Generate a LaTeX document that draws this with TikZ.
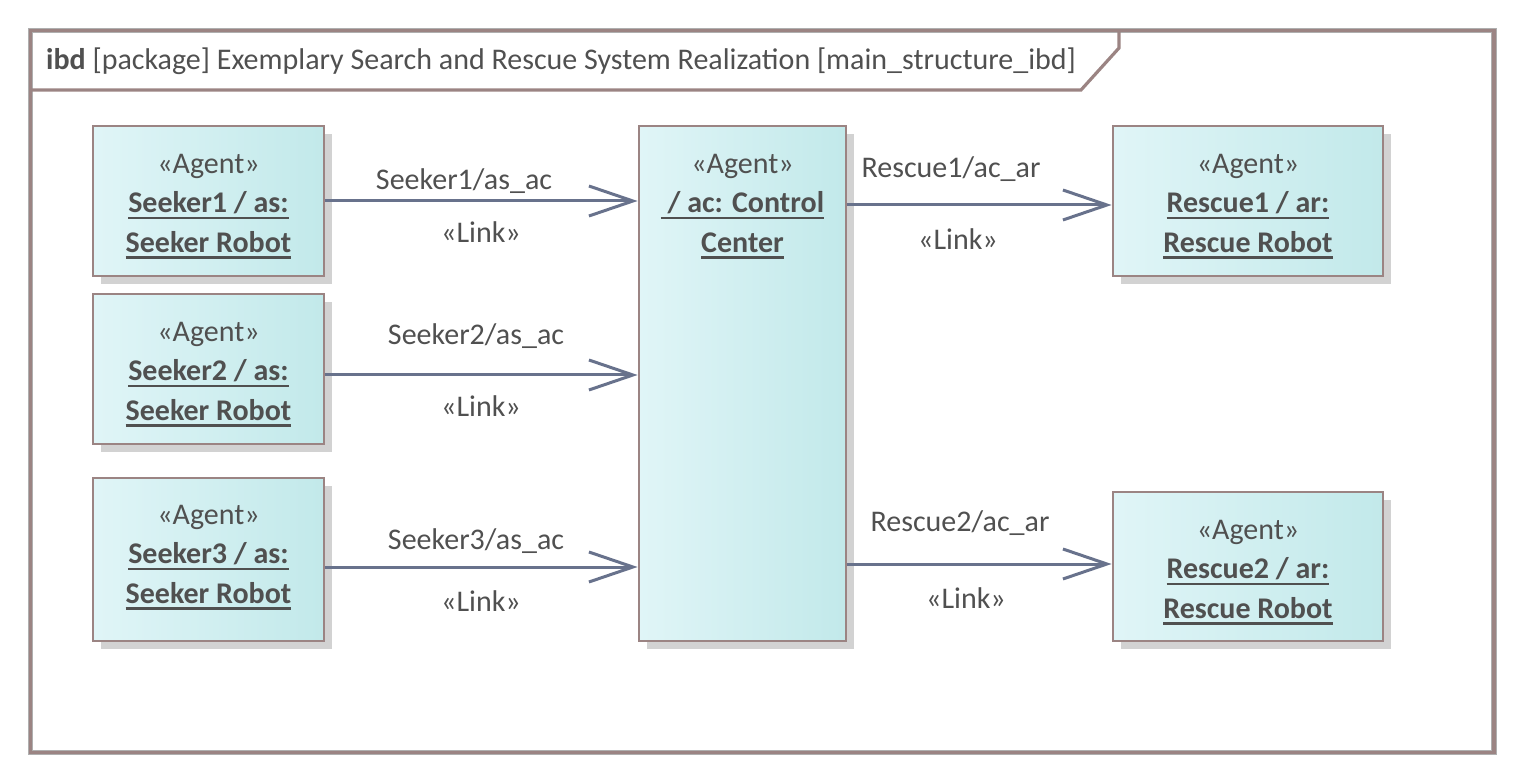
\documentclass[tikz,border=0pt]{standalone}
\usepackage{fontspec}
\setmainfont{Carlito}
\usetikzlibrary{arrows.meta,shadows,calc}
\definecolor{frameb}{RGB}{155,132,131}
\definecolor{frameg}{RGB}{175,175,175}
\definecolor{boxl}{RGB}{224,245,247}
\definecolor{boxr}{RGB}{194,233,234}
\definecolor{txtc}{RGB}{80,80,80}
\definecolor{arrc}{RGB}{104,114,140}
\definecolor{shad}{RGB}{210,210,210}
\newcommand\ulbold[1]{\setbox0\hbox{\bfseries #1}\rlap{\rule[-6.5pt]{\wd0}{2.8pt}}\box0}
\begin{document}
\begin{tikzpicture}[x=1pt,y=-1pt,
  part/.style={draw=frameb, line width=2.8pt, left color=boxl, right color=boxr,
    rectangle, inner sep=0pt,
    drop shadow={shadow xshift=8pt,shadow yshift=-8pt,fill=shad,opacity=1,draw=none}},
  parttext/.style={text=txtc, align=center, inner sep=0pt, font=\fontsize{30}{39.5}\selectfont},
  lbl/.style={text=txtc, inner sep=0pt, font=\fontsize{30}{36}\selectfont},
  link/.style={draw=arrc, line width=3pt, -{Straight Barb[length=44pt,width=30pt,line width=3pt]}}
]
\useasboundingbox (0,0) rectangle (1524,783);
% frame
\draw[frameg, line width=5.5pt] (30.5,30.5) rectangle (1494,752.5);
\draw[frameb, line width=3.2pt] (30.5,30.5) rectangle (1494,752.5);
\draw[frameb, line width=3.2pt] (30.5,90) -- (1081,90) -- (1119,48) -- (1119,30.5);
\node[lbl, anchor=base west] (title) at (46,69.5) {\textbf{ibd} [package] Exemplary Search and Rescue System Realization [main\_structure\_ibd]};
% parts
\node[part, minimum width=231pt, minimum height=150pt] (s1) at (208.5,201) {};
\node[part, minimum width=231pt, minimum height=150pt] (s2) at (208.5,369) {};
\node[part, minimum width=231pt, minimum height=163pt] (s3) at (208.5,559.5) {};
\node[part, minimum width=207pt, minimum height=515pt] (cc) at (742.5,383.5) {};
\node[part, minimum width=270pt, minimum height=150pt] (r1) at (1248,201) {};
\node[part, minimum width=270pt, minimum height=149pt] (r2) at (1248,566.5) {};
% part texts
\node[parttext] (s1t) at (208.5,206.5) {«Agent»\\\ulbold{Seeker1 / as:}\\\ulbold{Seeker Robot}};
\node[parttext] (s2t) at (208.5,374.5) {«Agent»\\\ulbold{Seeker2 / as:}\\\ulbold{Seeker Robot}};
\node[parttext] (s3t) at (208.5,557.5) {«Agent»\\\ulbold{Seeker3 / as:}\\\ulbold{Seeker Robot}};
\node[parttext] (cct) at (742.5,206.5) {«Agent»\\\ulbold{ / ac: Control}\\\ulbold{Center}};
\node[parttext] (r1t) at (1248,206.5) {«Agent»\\\ulbold{Rescue1 / ar:}\\\ulbold{Rescue Robot}};
\node[parttext] (r2t) at (1248,572.5) {«Agent»\\\ulbold{Rescue2 / ar:}\\\ulbold{Rescue Robot}};
% links
\draw[link] (s1.east) -- (s1.east -| cc.west);
\draw[link] ([yshift=-6pt]s2.east) -- ([yshift=-6pt]s2.east -| cc.west);
\draw[link] ([yshift=-7.5pt]s3.east) -- ([yshift=-7.5pt]s3.east -| cc.west);
\draw[link] ([yshift=-4pt]r1.west -| cc.east) -- ([yshift=-4pt]r1.west);
\draw[link] ([yshift=2.5pt]r2.west -| cc.east) -- ([yshift=2.5pt]r2.west);
% link labels
\node[lbl] (l1a) at (464,181) {Seeker1/as\_ac};
\node[lbl] (l1b) at (481,232) {«Link»};
\node[lbl] (l2a) at (476,336) {Seeker2/as\_ac};
\node[lbl] (l2b) at (481,406) {«Link»};
\node[lbl] (l3a) at (476,541) {Seeker3/as\_ac};
\node[lbl] (l3b) at (481,601) {«Link»};
\node[lbl] (l4a) at (951,169) {Rescue1/ac\_ar};
\node[lbl] (l4b) at (958,239) {«Link»};
\node[lbl] (l5a) at (960,523) {Rescue2/ac\_ar};
\node[lbl] (l5b) at (966,598) {«Link»};
\end{tikzpicture}
\end{document}
